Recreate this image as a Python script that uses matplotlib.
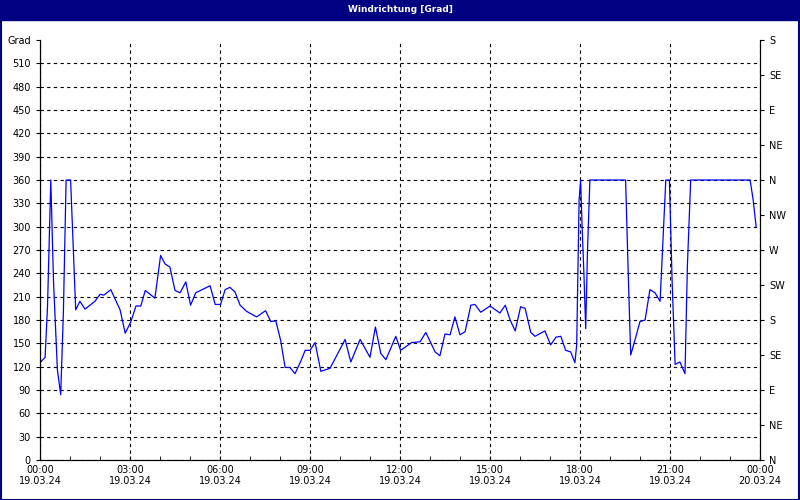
import matplotlib
matplotlib.use("Agg")
import matplotlib.pyplot as plt
from matplotlib.patches import Rectangle

hours = [0, 0.17, 0.25, 0.36, 0.45, 0.58, 0.69, 0.78, 0.87, 1.02, 1.19, 1.33, 1.5, 1.83, 2.0, 2.13, 2.36, 2.67,
         2.84, 3.02, 3.2, 3.36, 3.51, 3.83, 4.02, 4.17, 4.33, 4.5, 4.67, 4.86, 5.02, 5.19, 5.67, 5.84, 6.02,
         6.17, 6.33, 6.5, 6.67, 6.89, 7.22, 7.52, 7.69, 7.86, 8.02, 8.17, 8.33, 8.5, 8.67, 8.84, 9.0, 9.17,
         9.36, 9.67, 10.17, 10.36, 10.67, 11.0, 11.18, 11.36, 11.53, 11.86, 12.02, 12.39, 12.67, 12.86,
         13.17, 13.33, 13.5, 13.67, 13.83, 14.0, 14.17, 14.36, 14.5, 14.69, 15.0, 15.33, 15.51, 15.67,
         15.84, 16.02, 16.17, 16.36, 16.5, 16.83, 17.02, 17.2, 17.36, 17.52, 17.69, 17.83, 17.89, 17.97,
         18.02, 18.07, 18.13, 18.19, 18.25, 18.33, 19.52, 19.6, 19.69, 19.83, 20.0, 20.17, 20.33, 20.5,
         20.67, 20.86, 20.98, 21.07, 21.17, 21.33, 21.5, 21.58, 21.69, 23.67, 23.77, 23.87]
grad = [125, 132, 197, 360, 230, 116, 84, 190, 360, 360, 193, 204, 194, 204, 213, 212, 219, 193,
        163, 177, 198, 198, 218, 208, 263, 252, 248, 218, 215, 229, 199, 215, 224, 200, 200,
        219, 222, 216, 199, 191, 184, 192, 178, 179, 154, 119, 119, 111, 125, 141, 141, 151,
        114, 118, 155, 126, 155, 132, 171, 137, 129, 159, 141, 151, 152, 164,
        139, 134, 162, 161, 184, 161, 165, 199, 200, 190, 198, 189, 199, 180,
        166, 197, 195, 164, 159, 166, 148, 158, 159, 141, 139, 125, 148, 334,
        360, 300, 240, 169, 270, 360, 360, 250, 135, 154, 178, 180, 219, 215,
        204, 360, 360, 230, 123, 126, 111, 250, 360, 360, 335, 300]

left_ticks = list(range(0, 541, 30))
left_labels = [str(v) for v in left_ticks[:-1]] + ["Grad"]
right_ticks = list(range(0, 541, 45))
right_labels = ["N", "NE", "E", "SE", "S", "SW", "W", "NW", "N", "NE", "E", "SE", "S"]
x_ticks = list(range(0, 25, 3))
x_labels = ["%02d:00\n19.03.24" % (h % 24) for h in x_ticks[:-1]] + ["00:00\n20.03.24"]

plt.rcParams['font.family'] = ['DejaVu Sans']
fig = plt.figure(figsize=(8, 5), dpi=100)
fig.patch.set_facecolor("white")
navy = "#000080"
fig.patches.append(Rectangle((0, 0.96), 1, 0.04, transform=fig.transFigure, color=navy, zorder=0))
fig.patches.append(Rectangle((0.001, 0.001), 0.998, 0.998, transform=fig.transFigure, fill=False,
                             edgecolor=navy, linewidth=1.5, zorder=0))
fig.text(0.5, 0.98, "Windrichtung [Grad]", color="white", fontsize=6.5, fontweight="bold",
         ha="center", va="center")

ax = fig.add_axes([0.05, 0.08, 0.9, 0.84])
ax.plot(hours, grad, color="blue", linewidth=0.9)
ax.set_xlim(0, 24)
ax.set_ylim(0, 540)
ax.set_yticks(left_ticks)
ax.set_yticklabels(left_labels, fontsize=7)
ax.set_xticks(x_ticks)
ax.set_xticklabels(x_labels, fontsize=7)
ax.set_xticks(range(0, 25), minor=True)
ax.tick_params(axis="x", which="both", direction="in", length=3)
ax.tick_params(axis="y", direction="out", length=3)
ax.spines["top"].set_visible(False)
ax.grid(True, color="black", linestyle=(0, (3, 3)), linewidth=0.8)
ax.get_ygridlines()[-1].set_visible(False)

ax2 = ax.twinx()
ax2.set_ylim(0, 540)
ax2.set_yticks(right_ticks)
ax2.set_yticklabels(right_labels, fontsize=7)
ax2.tick_params(axis="y", direction="out", length=3)
ax2.spines["top"].set_visible(False)

fig.savefig("out.png", dpi=100)
